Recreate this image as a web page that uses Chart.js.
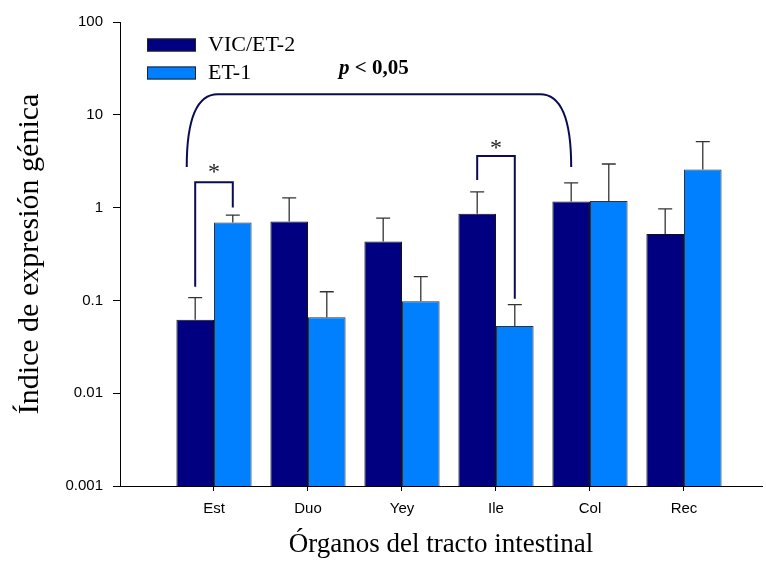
<!DOCTYPE html>
<html>
<head>
<meta charset="utf-8">
<script src="https://cdn.jsdelivr.net/npm/chart.js@4.4.0/dist/chart.umd.min.js"></script>
<style>
  html, body { margin: 0; padding: 0; background: #fff; }
</style>
</head>
<body>
<canvas id="myChart" width="766" height="567"></canvas>
<script>
// datos (escala log)
const organos = ['Est', 'Duo', 'Yey', 'Ile', 'Col', 'Rec'];
const vicEt2 = [0.062, 0.71, 0.43, 0.86, 1.16, 0.52];
const vicEt2Error = [0.045, 0.56, 0.34, 0.62, 0.69, 0.45];
const et1 = [0.69, 0.066, 0.098, 0.053, 1.18, 2.58];
const et1Error = [0.14, 0.058, 0.082, 0.037, 1.77, 2.55];
const yTicks = [0.001, 0.01, 0.1, 1, 10, 100];

// corchetes de significación (valores en unidades del eje y)
const corchetes = [
  { organo: 0, izq: 0.14, der: 1.0, tope: 1.87, asterisco: 2.25 },
  { organo: 3, izq: 1.98, der: 0.104, tope: 3.6, asterisco: 4.05 }
];
const llave = { desde: 0.71, hasta: 4.8, base: 2.74, cima: 16.6, curva: 0.33, textoX: 2.7, textoY: 27.5 };

const serif = 'Liberation Serif, Times New Roman, serif';
const sans = 'Liberation Sans, Arial, sans-serif';
const azulOscuro = '#000080';
const azulClaro = '#0080ff';
const navyLinea = '#0b0b55';

const barrasError = {
  id: 'barrasError',
  afterDatasetsDraw(chart) {
    const ctx = chart.ctx;
    const y = chart.scales.y;
    chart.data.datasets.forEach((ds, di) => {
      const meta = chart.getDatasetMeta(di);
      meta.data.forEach((bar, i) => {
        const top = y.getPixelForValue(ds.data[i].y + ds.errores[i]);
        ctx.save();
        ctx.strokeStyle = '#333';
        ctx.lineWidth = 1.3;
        ctx.beginPath();
        ctx.moveTo(bar.x, bar.y);
        ctx.lineTo(bar.x, top);
        ctx.moveTo(bar.x - 7, top);
        ctx.lineTo(bar.x + 7, top);
        ctx.stroke();
        ctx.restore();
      });
    });
  }
};

const anotaciones = {
  id: 'anotaciones',
  afterDraw(chart) {
    const ctx = chart.ctx;
    const x = chart.scales.x;
    const y = chart.scales.y;
    const m0 = chart.getDatasetMeta(0);
    const m1 = chart.getDatasetMeta(1);
    ctx.save();
    ctx.strokeStyle = navyLinea;
    ctx.lineWidth = 2;

    corchetes.forEach(c => {
      const xa = m0.data[c.organo].x;
      const xb = m1.data[c.organo].x;
      const yt = y.getPixelForValue(c.tope);
      ctx.beginPath();
      ctx.moveTo(xa, y.getPixelForValue(c.izq));
      ctx.lineTo(xa, yt);
      ctx.lineTo(xb, yt);
      ctx.lineTo(xb, y.getPixelForValue(c.der));
      ctx.stroke();
      ctx.fillStyle = '#222';
      ctx.font = '24px ' + serif;
      ctx.textAlign = 'center';
      ctx.textBaseline = 'alphabetic';
      ctx.fillText('*', (xa + xb) / 2, y.getPixelForValue(c.asterisco) + 4);
    });

    // llave grande
    const x0 = x.getPixelForValue(llave.desde);
    const x1 = x.getPixelForValue(llave.hasta);
    const r = x.getPixelForValue(llave.curva) - x.getPixelForValue(0);
    const yb = y.getPixelForValue(llave.base);
    const yt = y.getPixelForValue(llave.cima);
    ctx.beginPath();
    ctx.moveTo(x0, yb);
    ctx.quadraticCurveTo(x0, yt, x0 + r, yt);
    ctx.lineTo(x1 - r, yt);
    ctx.quadraticCurveTo(x1, yt, x1, yb);
    ctx.stroke();

    // p < 0,05
    ctx.fillStyle = '#000';
    ctx.textBaseline = 'alphabetic';
    ctx.textAlign = 'left';
    const fP = 'italic bold 21px ' + serif;
    const fR = 'bold 21px ' + serif;
    ctx.font = fP;
    const wP = ctx.measureText('p').width;
    ctx.font = fR;
    const wR = ctx.measureText(' < 0,05').width;
    const cx = x.getPixelForValue(llave.textoX);
    const ty = y.getPixelForValue(llave.textoY);
    const sx = cx - (wP + wR) / 2;
    ctx.font = fP;
    ctx.fillText('p', sx, ty);
    ctx.font = fR;
    ctx.fillText(' < 0,05', sx + wP, ty);

    // leyenda
    const area = chart.chartArea;
    const lx = area.left + 27;
    let ly = area.top + 16.5;
    chart.data.datasets.forEach(ds => {
      ctx.fillStyle = ds.backgroundColor;
      ctx.fillRect(lx, ly, 49, 13);
      ctx.strokeStyle = '#222';
      ctx.lineWidth = 1;
      ctx.strokeRect(lx + 0.5, ly + 0.5, 48, 12);
      ctx.fillStyle = '#000';
      ctx.font = '22px ' + serif;
      ctx.textBaseline = 'middle';
      ctx.fillText(ds.label, lx + 61, ly + 7);
      ly += 28;
    });
    ctx.restore();
  }
};

const ctx = document.getElementById('myChart');
new Chart(ctx, {
  type: 'bar',
  data: {
    datasets: [
      {
        label: 'VIC/ET-2',
        data: organos.map((o, i) => ({ x: i + 1, y: vicEt2[i] })),
        errores: vicEt2Error,
        backgroundColor: azulOscuro,
        borderColor: '#111',
        borderWidth: 1
      },
      {
        label: 'ET-1',
        data: organos.map((o, i) => ({ x: i + 1, y: et1[i] })),
        errores: et1Error,
        backgroundColor: azulClaro,
        borderColor: '#333',
        borderWidth: 1
      }
    ]
  },
  options: {
    responsive: false,
    animation: false,
    devicePixelRatio: 1,
    layout: { padding: { top: 22, right: 4, left: 0, bottom: 0 } },
    datasets: { bar: { categoryPercentage: 0.8, barPercentage: 1 } },
    plugins: {
      legend: { display: false },
      tooltip: { enabled: false }
    },
    scales: {
      x: {
        type: 'linear',
        min: 0,
        max: 6.83,
        offset: false,
        afterBuildTicks(axis) {
          axis.ticks = organos.map((o, i) => ({ value: i + 1 }));
        },
        afterFit(scale) { scale.height = 81; },
        ticks: {
          callback: (v) => organos[v - 1],
          autoSkip: false,
          maxRotation: 0,
          color: '#000',
          padding: 9,
          font: { family: sans, size: 15 }
        },
        grid: { offset: false, drawOnChartArea: false, tickLength: 5, color: '#000' },
        border: { color: '#000', width: 1 },
        title: {
          display: true,
          text: 'Órganos del tracto intestinal',
          color: '#000',
          font: { family: serif, size: 27 },
          padding: { top: 0, bottom: 6 }
        }
      },
      y: {
        type: 'logarithmic',
        min: 0.001,
        max: 100,
        afterBuildTicks(axis) {
          axis.ticks = yTicks.map(v => ({ value: v }));
        },
        afterFit(scale) { scale.width = 120; },
        ticks: {
          callback: (v) => String(v),
          color: '#000',
          padding: 10,
          font: { family: sans, size: 15 }
        },
        grid: { drawOnChartArea: false, tickLength: 7, color: '#000' },
        border: { color: '#000', width: 1 },
        title: {
          display: true,
          text: 'Índice de expresión génica',
          color: '#000',
          font: { family: serif, size: 30 },
          padding: { top: 12, bottom: 0 }
        }
      }
    }
  },
  plugins: [barrasError, anotaciones]
});
</script>
</body>
</html>
